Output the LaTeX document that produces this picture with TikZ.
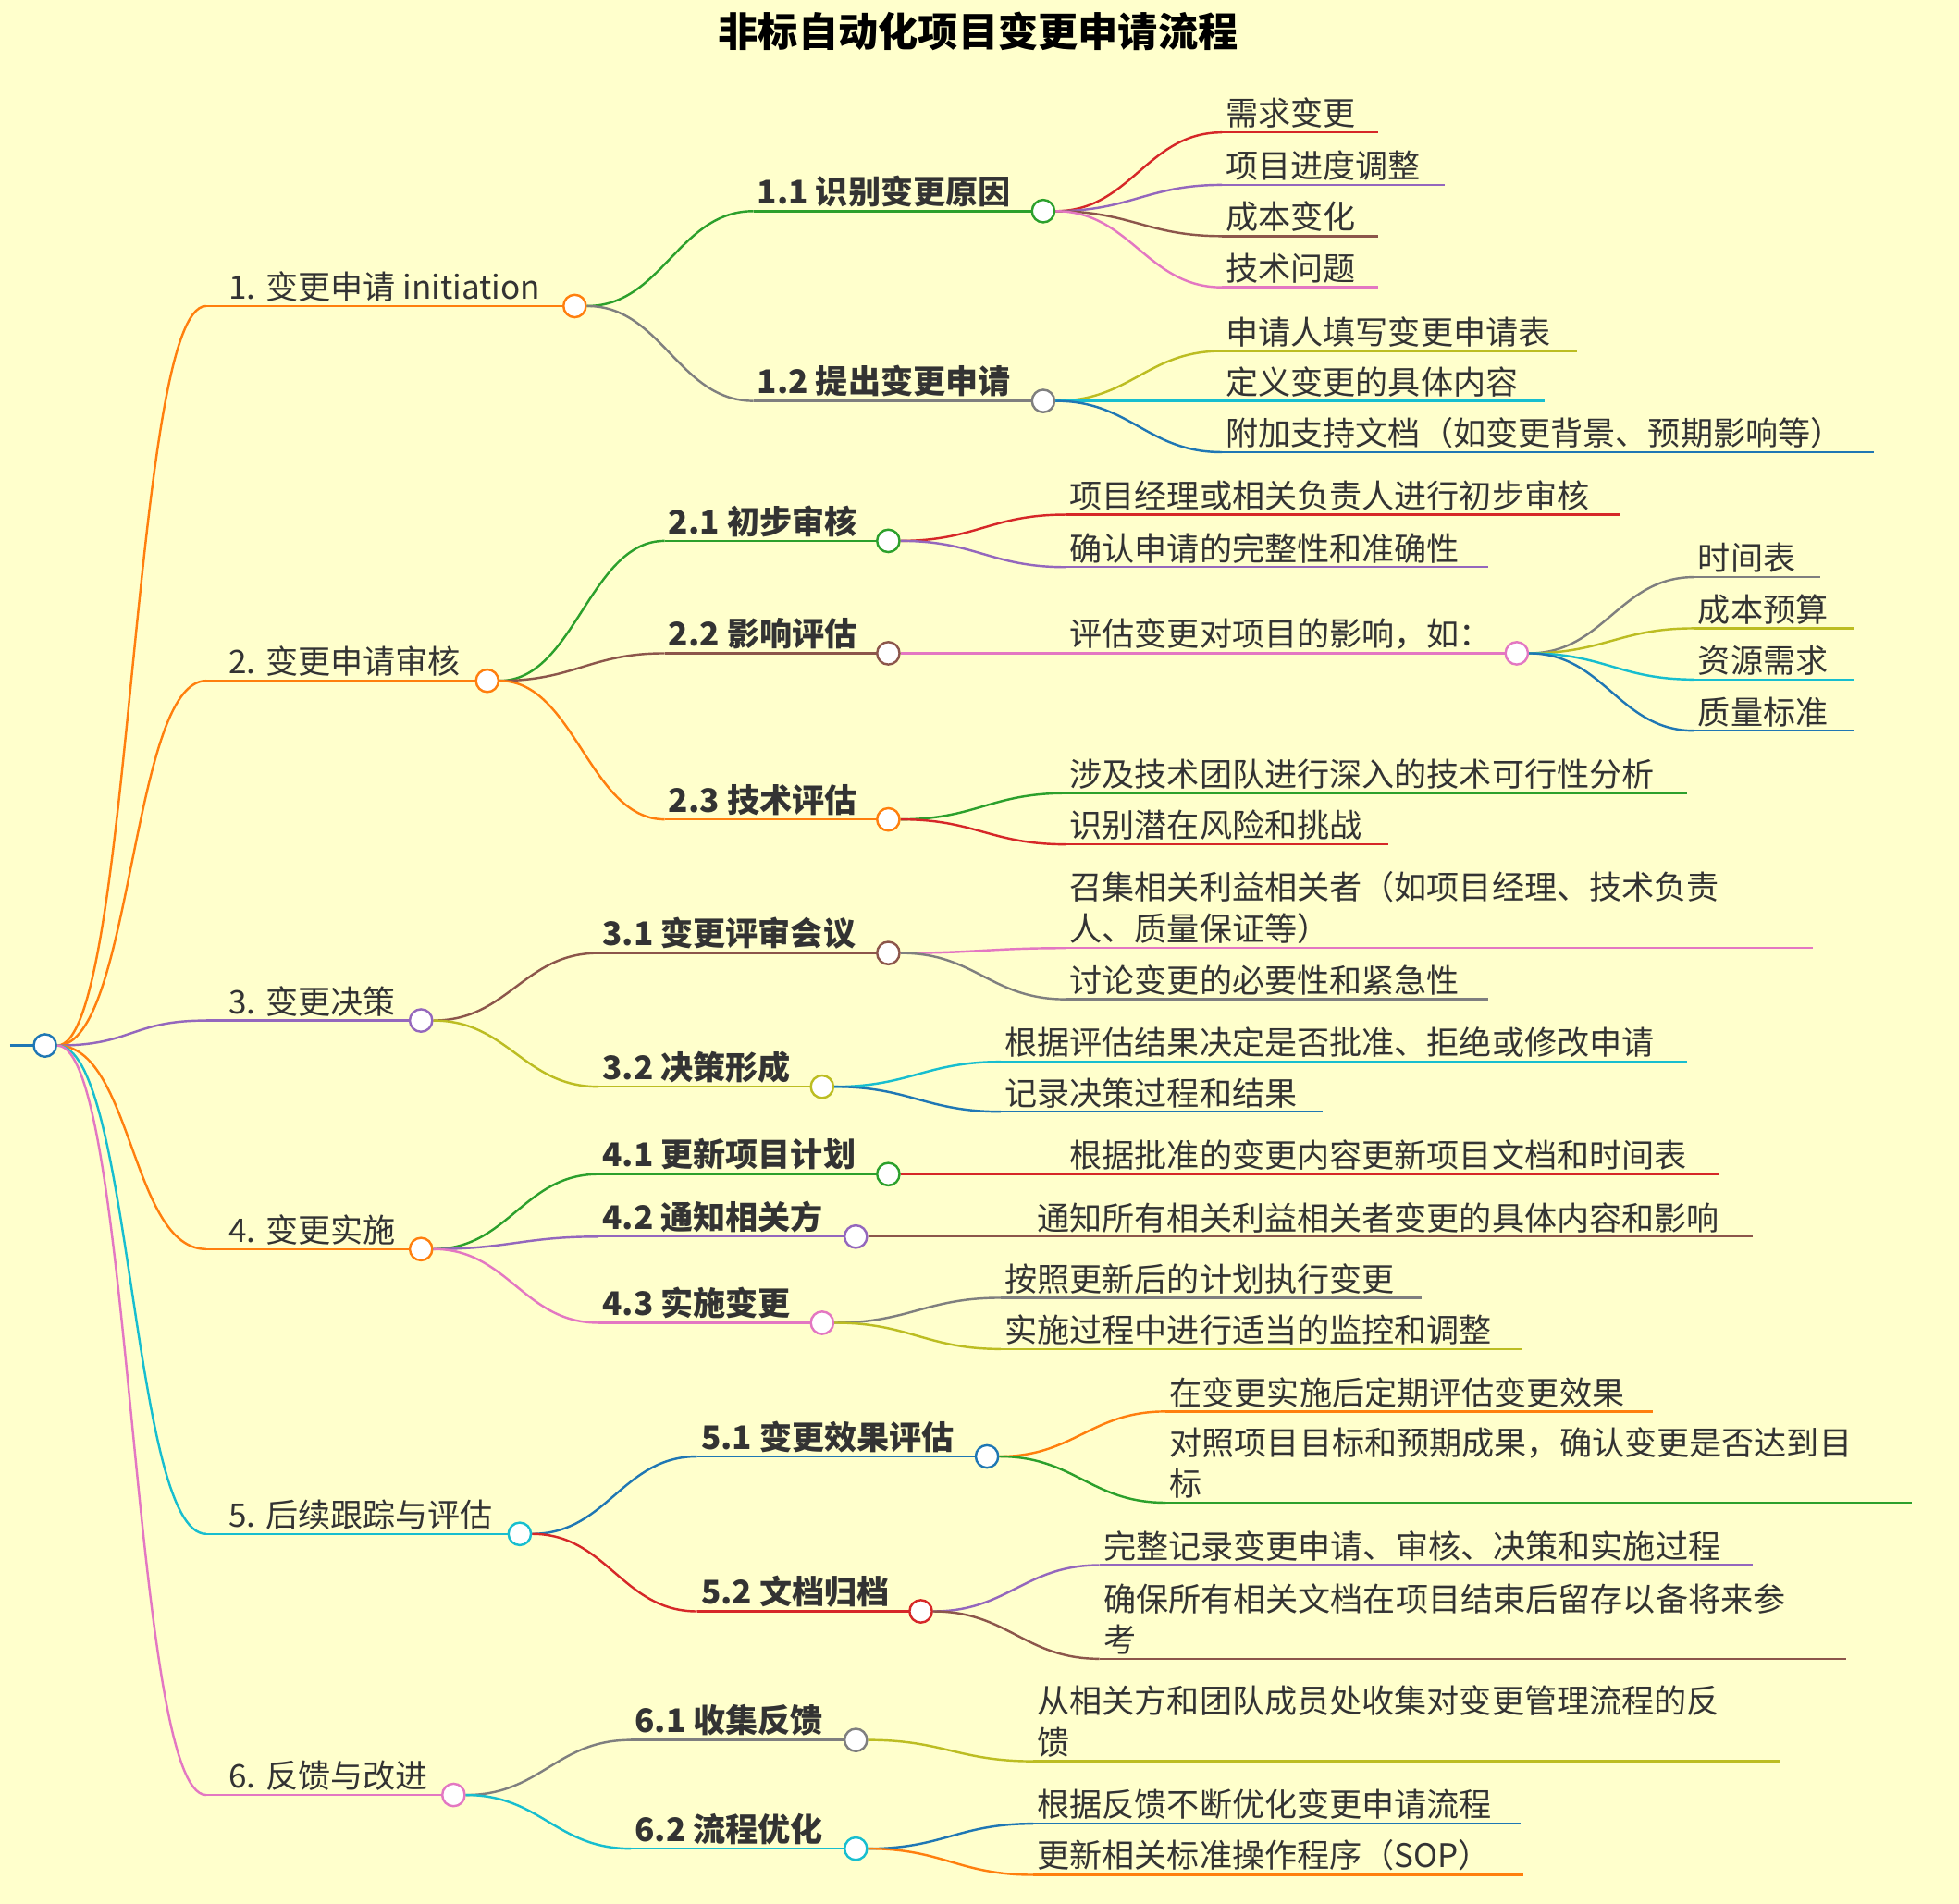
\documentclass[tikz,border=0pt]{standalone}
\usepackage{fontspec}
\setmainfont{Noto Sans CJK SC}
\usetikzlibrary{positioning}
\definecolor{bgc}{HTML}{FFFFCC}
\definecolor{cO}{HTML}{FF7F0E}
\definecolor{cG}{HTML}{2CA02C}
\definecolor{cR}{HTML}{D62728}
\definecolor{cP}{HTML}{9467BD}
\definecolor{cB}{HTML}{8C564B}
\definecolor{cK}{HTML}{E377C2}
\definecolor{cY}{HTML}{7F7F7F}
\definecolor{cL}{HTML}{BCBD22}
\definecolor{cC}{HTML}{17BECF}
\definecolor{cU}{HTML}{1F77B4}
\definecolor{txt}{HTML}{333333}
\tikzset{
  mmline/.style={draw=#1, line width=1.8pt},
  mmdot/.style={circle, draw=#1, fill=white, line width=1.8pt, minimum size=18pt, inner sep=0pt},
  mmtext/.style={anchor=south west, inner sep=3pt, text=txt, align=left},
}
% underline + text + end circle
\newcommand\mmtopic[7]{%
  \draw[mmline=#2] (#3,#5) coordinate (#1-s) -- (#4,#5);
  \node[mmtext,#7] (#1-t) at (#3,#5) {#6};
  \node[mmdot=#2] (#1) at (#4,#5) {};
}
% underline + text, no circle
\newcommand\mmleaf[7]{%
  \draw[mmline=#2] (#3,#5) coordinate (#1-s) -- (#4,#5);
  \node[mmtext,#7] (#1-t) at (#3,#5) {#6};
}
\newcommand\mmlink[3]{%
  \draw[mmline=#1] (#2.east) .. controls +(60,0) and +(-60,0) .. (#3-s);
}
\begin{document}
\begin{tikzpicture}[x=1pt, y=-1pt, every node/.style={font=\fontsize{26}{33}\selectfont}]
  \fill[bgc] (0,0) rectangle (1568,1524);
  \useasboundingbox (0,0) rectangle (1568,1524);
  \node[font=\fontsize{32}{36}\selectfont\bfseries, text=black] (title) at (783,25) {非标自动化项目变更申请流程};

  % root
  \draw[mmline=cU] (8,837) -- (36,837);
  \node[mmdot=cU] (root) at (36,837) {};

  % level 1
  \mmtopic{a}{cO}{165}{460}{245}{1. 变更申请 initiation}{xshift=15}
  \mmtopic{b}{cO}{165}{390}{545}{2. 变更申请审核}{xshift=15}
  \mmtopic{c}{cP}{165}{337}{817}{3. 变更决策}{xshift=15}
  \mmtopic{d}{cO}{165}{337}{1000}{4. 变更实施}{xshift=15}
  \mmtopic{e}{cC}{165}{416}{1228}{5. 后续跟踪与评估}{xshift=15}
  \mmtopic{f}{cK}{165}{363}{1437}{6. 反馈与改进}{xshift=15}
  \foreach \n/\c in {a/cO,b/cO,c/cP,d/cO,e/cC,f/cK} {\mmlink{\c}{root}{\n}}

  % level 2
  \mmtopic{a1}{cG}{603}{835}{169}{1.1 识别变更原因}{font=\fontsize{26}{33}\selectfont\bfseries}
  \mmtopic{a2}{cY}{603}{835}{321}{1.2 提出变更申请}{font=\fontsize{26}{33}\selectfont\bfseries}
  \mmtopic{b1}{cG}{532}{711}{433}{2.1 初步审核}{font=\fontsize{26}{33}\selectfont\bfseries}
  \mmtopic{b2}{cB}{532}{711}{523}{2.2 影响评估}{font=\fontsize{26}{33}\selectfont\bfseries}
  \mmtopic{b3}{cO}{532}{711}{656}{2.3 技术评估}{font=\fontsize{26}{33}\selectfont\bfseries}
  \mmtopic{c1}{cB}{479}{711}{763}{3.1 变更评审会议}{font=\fontsize{26}{33}\selectfont\bfseries}
  \mmtopic{c2}{cL}{479}{658}{870}{3.2 决策形成}{font=\fontsize{26}{33}\selectfont\bfseries}
  \mmtopic{d1}{cG}{479}{711}{940}{4.1 更新项目计划}{font=\fontsize{26}{33}\selectfont\bfseries}
  \mmtopic{d2}{cP}{479}{685}{990}{4.2 通知相关方}{font=\fontsize{26}{33}\selectfont\bfseries}
  \mmtopic{d3}{cK}{479}{658}{1059}{4.3 实施变更}{font=\fontsize{26}{33}\selectfont\bfseries}
  \mmtopic{e1}{cU}{558}{790}{1166}{5.1 变更效果评估}{font=\fontsize{26}{33}\selectfont\bfseries}
  \mmtopic{e2}{cR}{558}{737}{1290}{5.2 文档归档}{font=\fontsize{26}{33}\selectfont\bfseries}
  \mmtopic{f1}{cY}{505}{685}{1393}{6.1 收集反馈}{font=\fontsize{26}{33}\selectfont\bfseries}
  \mmtopic{f2}{cC}{505}{685}{1480}{6.2 流程优化}{font=\fontsize{26}{33}\selectfont\bfseries}
  \foreach \p/\n/\c in {a/a1/cG,a/a2/cY,b/b1/cG,b/b2/cB,b/b3/cO,c/c1/cB,c/c2/cL,
    d/d1/cG,d/d2/cP,d/d3/cK,e/e1/cU,e/e2/cR,f/f1/cY,f/f2/cC} {\mmlink{\c}{\p}{\n}}

  % leaves
  \mmleaf{a11}{cR}{978}{1103}{106}{需求变更}{}
  \mmleaf{a12}{cP}{978}{1156}{148}{项目进度调整}{}
  \mmleaf{a13}{cB}{978}{1103}{189}{成本变化}{}
  \mmleaf{a14}{cK}{978}{1103}{230}{技术问题}{}
  \mmleaf{a21}{cL}{978}{1262}{281}{申请人填写变更申请表}{}
  \mmleaf{a22}{cC}{978}{1236}{321}{定义变更的具体内容}{}
  \mmleaf{a23}{cU}{978}{1500}{362}{附加支持文档（如变更背景、预期影响等）}{}
  \mmleaf{b11}{cR}{853}{1297}{412}{项目经理或相关负责人进行初步审核}{}
  \mmleaf{b12}{cP}{853}{1191}{454}{确认申请的完整性和准确性}{}
  \mmtopic{b21}{cK}{853}{1214}{523}{评估变更对项目的影响，如：}{}
  \mmleaf{b211}{cY}{1356}{1457}{462}{时间表}{}
  \mmleaf{b212}{cL}{1356}{1484}{503}{成本预算}{}
  \mmleaf{b213}{cC}{1356}{1484}{544}{资源需求}{}
  \mmleaf{b214}{cU}{1356}{1484}{585}{质量标准}{}
  \mmleaf{b31}{cG}{853}{1350}{635}{涉及技术团队进行深入的技术可行性分析}{}
  \mmleaf{b32}{cR}{853}{1111}{676}{识别潜在风险和挑战}{}
  \mmleaf{c11}{cK}{853}{1451}{759}{召集相关利益相关者（如项目经理、技术负责\\人、质量保证等）}{}
  \mmleaf{c12}{cY}{853}{1191}{800}{讨论变更的必要性和紧急性}{}
  \mmleaf{c21}{cC}{801}{1350}{850}{根据评估结果决定是否批准、拒绝或修改申请}{}
  \mmleaf{c22}{cU}{801}{1059}{890}{记录决策过程和结果}{}
  \mmleaf{d11}{cR}{853}{1376}{940}{根据批准的变更内容更新项目文档和时间表}{}
  \mmleaf{d21}{cB}{827}{1403}{990}{通知所有相关利益相关者变更的具体内容和影响}{}
  \mmleaf{d31}{cY}{801}{1138}{1039}{按照更新后的计划执行变更}{}
  \mmleaf{d32}{cL}{801}{1218}{1080}{实施过程中进行适当的监控和调整}{}
  \mmleaf{e11}{cO}{933}{1323}{1130}{在变更实施后定期评估变更效果}{}
  \mmleaf{e12}{cG}{933}{1530}{1203}{对照项目目标和预期成果，确认变更是否达到目\\标}{}
  \mmleaf{e21}{cP}{880}{1403}{1253}{完整记录变更申请、审核、决策和实施过程}{}
  \mmleaf{e22}{cB}{880}{1478}{1328}{确保所有相关文档在项目结束后留存以备将来参\\考}{}
  \mmleaf{f11}{cL}{827}{1425}{1410}{从相关方和团队成员处收集对变更管理流程的反\\馈}{}
  \mmleaf{f21}{cU}{827}{1217}{1460}{根据反馈不断优化变更申请流程}{}
  \mmleaf{f22}{cO}{827}{1219}{1501}{更新相关标准操作程序（SOP）}{}
  \foreach \p/\n/\c in {a1/a11/cR,a1/a12/cP,a1/a13/cB,a1/a14/cK,a2/a21/cL,a2/a22/cC,a2/a23/cU,
    b1/b11/cR,b1/b12/cP,b2/b21/cK,b21/b211/cY,b21/b212/cL,b21/b213/cC,b21/b214/cU,
    b3/b31/cG,b3/b32/cR,c1/c11/cK,c1/c12/cY,c2/c21/cC,c2/c22/cU,d1/d11/cR,d2/d21/cB,
    d3/d31/cY,d3/d32/cL,e1/e11/cO,e1/e12/cG,e2/e21/cP,e2/e22/cB,f1/f11/cL,f2/f21/cU,f2/f22/cO}
    {\mmlink{\c}{\p}{\n}}
\end{tikzpicture}
\end{document}
